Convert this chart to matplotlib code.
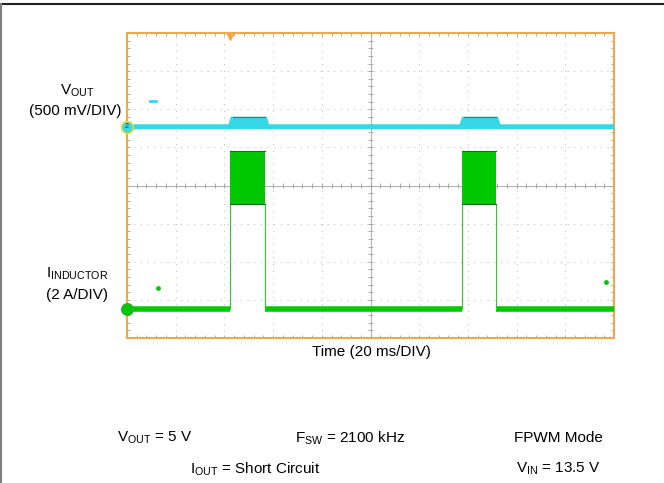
import matplotlib
matplotlib.use('Agg')
import matplotlib.pyplot as plt
from matplotlib.lines import Line2D
import numpy as np

plt.rcParams['font.family'] = 'Liberation Sans'
plt.rcParams['mathtext.fontset'] = 'custom'
plt.rcParams['mathtext.rm'] = 'Liberation Sans'
plt.rcParams['mathtext.it'] = 'Liberation Sans'
plt.rcParams['font.size'] = 11

# Scope settings (20 ms/DIV, 10 x 8 divisions)
ms_per_div = 20
n_xdiv, n_ydiv = 10, 8

# hiccup pulses (ms)
pulse_start = [42.4, 137.4]
pulse_end = [56.6, 151.6]
trigger_ms = 42.4

# VOUT trace levels (divisions from bottom)
vout_base = 5.54
vout_bump = 5.74

# inductor current levels (divisions from bottom)
il_base = 0.77
il_env_low = 3.51
il_env_high = 4.91

# stray points on screen (ms, div)
cyan_dash = (10.6, 6.22)
green_dots_x = [12.8, 196.8]
green_dots_y = [1.31, 1.46]

cyan = '#34d8e6'
green = '#00c800'
orange = '#f0a848'

fig = plt.figure(figsize=(6.64, 4.83), dpi=100)
ax = fig.add_axes([127/664, 1 - 338/483, 487/664, 305/483])
xmax = ms_per_div * n_xdiv
ax.set_xlim(0, xmax)
ax.set_ylim(0, n_ydiv)
ax.set_xticks([])
ax.set_yticks([])
for s in ax.spines.values():
    s.set_color(orange)
    s.set_linewidth(1.5)

# dotted graticule
for i in range(1, n_xdiv):
    if i != n_xdiv // 2:
        ax.axvline(i * ms_per_div, color='#c4c4c4', lw=0.8, ls=(0, (1, 5)), zorder=1)
for j in range(1, n_ydiv):
    if j != n_ydiv // 2:
        ax.axhline(j, color='#c4c4c4', lw=0.8, ls=(0, (1, 5)), zorder=1)
ax.axvline(xmax / 2, color='#b4b4b4', lw=0.8, zorder=1)
ax.axhline(n_ydiv / 2, color='#b4b4b4', lw=0.8, zorder=1)

# minor ticks on centre lines and border
mx = np.arange(0, xmax + 0.01, ms_per_div / 5)
my = np.arange(0, n_ydiv + 0.01, 0.2)
ax.vlines(mx, n_ydiv / 2 - 0.06, n_ydiv / 2 + 0.06, color='#a0a0a0', lw=0.6, zorder=1)
ax.hlines(my, xmax / 2 - 0.9, xmax / 2 + 0.9, color='#a0a0a0', lw=0.6, zorder=1)
ax.vlines(mx, n_ydiv - 0.08, n_ydiv, color='#a0a0a0', lw=0.6, zorder=1)
ax.vlines(mx, 0, 0.08, color='#a0a0a0', lw=0.6, zorder=1)
ax.hlines(my, 0, 1.2, color='#a0a0a0', lw=0.6, zorder=1)
ax.hlines(my, xmax - 1.2, xmax, color='#a0a0a0', lw=0.6, zorder=1)

# VOUT trace
vx, vy = [0], [vout_base]
for s, e in zip(pulse_start, pulse_end):
    vx += [s, s + 1.0, e, e + 1.0]
    vy += [vout_base, vout_bump, vout_bump, vout_base]
vx.append(xmax)
vy.append(vout_base)
ax.plot(vx, vy, color=cyan, lw=3.6, solid_joinstyle='miter', zorder=3)
for s, e in zip(pulse_start, pulse_end):
    ax.fill_between([s + 0.5, e + 0.5], vout_base - 0.06, vout_bump, color=cyan, lw=0, zorder=3)
    ax.plot([s + 1.0, e], [vout_bump + 0.05, vout_bump + 0.05], color='#2f7d88', lw=0.8, zorder=4)
ax.plot([cyan_dash[0] - 1.2, cyan_dash[0] + 1.2], [cyan_dash[1]] * 2, color=cyan, lw=2, zorder=3)

# inductor current trace
edges = [0] + [v for p in zip(pulse_start, pulse_end) for v in p] + [xmax]
for a, b in zip(edges[0::2], edges[1::2]):
    ax.plot([a, b], [il_base, il_base], color=green, lw=4, solid_capstyle='butt', zorder=3)
for s, e in zip(pulse_start, pulse_end):
    ax.fill_between([s, e], il_env_low, il_env_high, color=green, lw=0, zorder=3)
    ax.plot([s, e], [il_env_high, il_env_high], color='#1a6a1a', lw=0.8, zorder=4)
    ax.plot([s, e], [il_env_low, il_env_low], color='#1a6a1a', lw=0.8, zorder=4)
    ax.plot([s, s], [il_base, il_env_low], color='#30c830', lw=0.8, zorder=3)
    ax.plot([e, e], [il_base, il_env_low], color='#30c830', lw=0.8, zorder=3)
ax.scatter(green_dots_x, green_dots_y, s=6, color=green, zorder=3)

# ground markers and trigger
ax.scatter([0], [vout_base], s=70, facecolor=cyan, edgecolor='#e0d840', lw=1.2,
           clip_on=False, zorder=5)
ax.text(0, vout_base, '2', fontsize=5, ha='center', va='center', color='#333333',
        clip_on=False, zorder=6)
ax.scatter([0], [il_base], s=70, facecolor=green, edgecolor='#30b030', lw=1,
           clip_on=False, zorder=5)
ax.scatter([trigger_ms], [n_ydiv - 0.08], marker='v', s=30, color=orange,
           clip_on=False, zorder=5)


def fx(px):
    return px / 664


def fy(py):
    return 1 - py / 483


# channel labels
fig.text(fx(77), fy(91), r'V$_{\mathrm{OUT}}$', ha='center', va='center')
fig.text(fx(75), fy(111), '(500 mV/DIV)', ha='center', va='center')
fig.text(fx(77), fy(274), r'I$_{\mathrm{INDUCTOR}}$', ha='center', va='center')
fig.text(fx(77), fy(295), '(2 A/DIV)', ha='center', va='center')
fig.text(fx(371), fy(352), 'Time (20 ms/DIV)', ha='center', va='center')

# test conditions
fig.text(fx(155), fy(438), r'V$_{\mathrm{OUT}}$ = 5 V', ha='center', va='center')
fig.text(fx(350), fy(438), r'F$_{\mathrm{SW}}$ = 2100 kHz', ha='center', va='center')
fig.text(fx(558), fy(438), 'FPWM Mode', ha='center', va='center')
fig.text(fx(255), fy(469), r'I$_{\mathrm{OUT}}$ = Short Circuit', ha='center', va='center')
fig.text(fx(558), fy(469), r'V$_{\mathrm{IN}}$ = 13.5 V', ha='center', va='center')

# outer frame (top and left)
fig.add_artist(Line2D([0, 1], [fy(4), fy(4)], transform=fig.transFigure, color='#222222', lw=1.5))
fig.add_artist(Line2D([fx(1), fx(1)], [0, fy(4)], transform=fig.transFigure, color='#808080', lw=1.5))

fig.savefig('out.png', dpi=100)
